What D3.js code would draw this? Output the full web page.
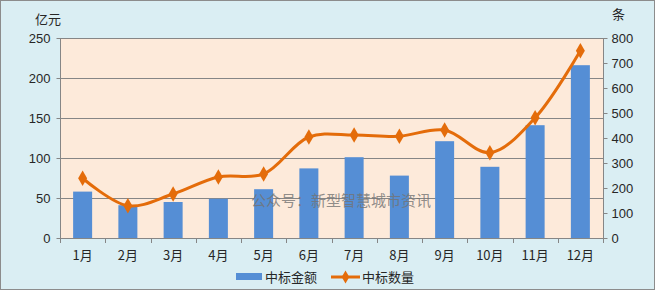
<!DOCTYPE html>
<html>
<head>
<meta charset="utf-8">
<style>
body { margin: 0; background: #fff; }
svg { display: block; font-family: "Noto Sans CJK SC", "DejaVu Sans", sans-serif; }
</style>
</head>
<body>
<svg width="655" height="291"></svg>
<script src="https://cdn.jsdelivr.net/npm/d3@7/dist/d3.min.js"></script>
<script>
// monthly data
var months = ["1月", "2月", "3月", "4月", "5月", "6月", "7月", "8月", "9月", "10月", "11月", "12月"];
var amount = [58, 41, 45, 49, 61, 87, 101, 78, 121, 89, 141, 216];   // 中标金额, 亿元
var count = [239, 129, 176, 244, 256, 404, 412, 407, 432, 341, 481, 749]; // 中标数量, 条
var leftTicks = [0, 50, 100, 150, 200, 250];
var rightTicks = [0, 100, 200, 300, 400, 500, 600, 700, 800];

var svg = d3.select("svg");
var W = 655, H = 291;
var plot = { left: 60, right: 603, top: 38, bottom: 238 };
var textColor = "#262626", gridColor = "#868686";

// chart background + border
svg.append("rect").attr("x", 0.5).attr("y", 0.5).attr("width", W - 1).attr("height", H - 2)
    .attr("fill", "#daeef3").attr("stroke", "#8c8c8c");
svg.append("rect").attr("x", plot.left).attr("y", plot.top)
    .attr("width", plot.right - plot.left).attr("height", plot.bottom - plot.top)
    .attr("fill", "#fdeada");

var x = d3.scaleBand().domain(months).range([plot.left, plot.right]);
var yL = d3.scaleLinear().domain([0, 250]).range([plot.bottom, plot.top]);
var yR = d3.scaleLinear().domain([0, 800]).range([plot.bottom, plot.top]);

// gridlines
svg.append("g").selectAll("line").data(leftTicks.slice(1)).enter().append("line")
    .attr("x1", plot.left).attr("x2", plot.right)
    .attr("y1", function(d){ return Math.round(yL(d)) + 0.5; })
    .attr("y2", function(d){ return Math.round(yL(d)) + 0.5; })
    .attr("stroke", gridColor).attr("stroke-width", 1);

// bars
var bw = 19;
svg.append("g").selectAll("rect").data(amount).enter().append("rect")
    .attr("x", function(d, i){ return x(months[i]) + x.bandwidth() / 2 - bw / 2; })
    .attr("y", function(d){ return yL(d); })
    .attr("width", bw)
    .attr("height", function(d){ return plot.bottom - yL(d); })
    .attr("fill", "#558ed5");

// axes
var axL = svg.append("g").attr("transform", "translate(" + (plot.left + 0.5) + ",0)")
    .call(d3.axisLeft(yL).tickValues(leftTicks).tickSize(4).tickPadding(6));
var axR = svg.append("g").attr("transform", "translate(" + (plot.right + 0.5) + ",0)")
    .call(d3.axisRight(yR).tickValues(rightTicks).tickSize(4).tickPadding(4));
var axB = svg.append("g").attr("transform", "translate(0," + (plot.bottom + 0.5) + ")")
    .call(d3.axisBottom(x).tickSize(0).tickPadding(12));
// category boundary ticks
svg.append("g").selectAll("line").data(d3.range(months.length + 1)).enter().append("line")
    .attr("x1", function(i){ return Math.round(plot.left + i * x.step()) + 0.5; })
    .attr("x2", function(i){ return Math.round(plot.left + i * x.step()) + 0.5; })
    .attr("y1", plot.bottom).attr("y2", plot.bottom + 5)
    .attr("stroke", gridColor);

[axL, axR, axB].forEach(function(a){
  a.select(".domain").attr("stroke", gridColor);
  a.selectAll(".tick line").attr("stroke", gridColor);
  a.selectAll("text").attr("fill", textColor).attr("font-size", 13)
    .attr("font-family", "'Liberation Sans', Arial, 'Noto Sans CJK SC', sans-serif");
});
axB.selectAll("text").attr("font-family", "'Noto Sans CJK SC', sans-serif").attr("font-size", 13);
axL.select(".domain").attr("d", "M0," + plot.top + "V" + plot.bottom);
axR.select(".domain").attr("d", "M0," + plot.top + "V" + plot.bottom);
axB.select(".domain").attr("d", "M" + plot.left + ",0H" + plot.right);

// watermark (sits over the bars)
svg.append("text").attr("x", 251).attr("y", 206)
    .attr("font-size", 15).attr("fill", "#737373").attr("fill-opacity", 0.8)
    .text("公众号：新型智慧城市资讯");

// line series
var lineColor = "#e46c0a";
var line = d3.line()
    .x(function(d, i){ return x(months[i]) + x.bandwidth() / 2; })
    .y(function(d){ return yR(d); })
    .curve(d3.curveCatmullRom.alpha(0.5));
svg.append("path").datum(count).attr("d", line)
    .attr("fill", "none").attr("stroke", lineColor).attr("stroke-width", 3);
var diamond = d3.symbol().type(d3.symbolDiamond).size(70);
svg.append("g").selectAll("path").data(count).enter().append("path")
    .attr("d", diamond)
    .attr("transform", function(d, i){ return "translate(" + (x(months[i]) + x.bandwidth() / 2) + "," + yR(d) + ")"; })
    .attr("fill", lineColor);

// axis unit labels
svg.append("text").attr("x", 35).attr("y", 24).attr("font-size", 13).attr("fill", textColor).text("亿元");
svg.append("text").attr("x", 612).attr("y", 19).attr("font-size", 13).attr("fill", textColor).text("条");

// legend
var lg = svg.append("g");
lg.append("rect").attr("x", 236).attr("y", 273).attr("width", 26).attr("height", 7).attr("fill", "#558ed5");
lg.append("text").attr("x", 265).attr("y", 282).attr("font-size", 13).attr("fill", textColor).text("中标金额");
lg.append("line").attr("x1", 331).attr("x2", 360).attr("y1", 277).attr("y2", 277)
    .attr("stroke", lineColor).attr("stroke-width", 3);
lg.append("path").attr("d", d3.symbol().type(d3.symbolDiamond).size(50))
    .attr("transform", "translate(345.5,277)").attr("fill", lineColor);
lg.append("text").attr("x", 362).attr("y", 282).attr("font-size", 13).attr("fill", textColor).text("中标数量");
</script>
</body>
</html>
